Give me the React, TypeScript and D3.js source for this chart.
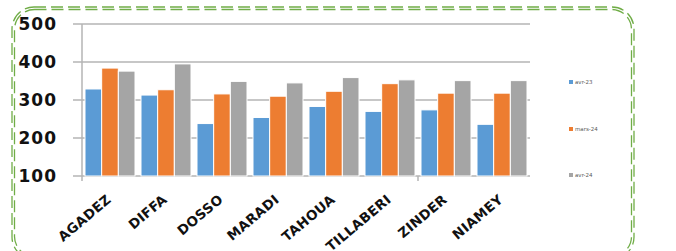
import * as d3 from "d3";

const regions = ["AGADEZ", "DIFFA", "DOSSO", "MARADI", "TAHOUA", "TILLABERI", "ZINDER", "NIAMEY"];
const seriesNames = ["avr-23", "mars-24", "avr-24"];
const avr23 = [329, 313, 238, 254, 283, 270, 274, 236];
const mars24 = [384, 327, 316, 310, 323, 343, 318, 318];
const avr24 = [376, 395, 349, 345, 359, 353, 351, 351];
const colors = ["#5B9BD5", "#ED7D31", "#A5A5A5"];
const yTicks = [100, 200, 300, 400, 500];

function App() {
  const width = 676;
  const height = 251;
  const left = 82;
  const right = 530;
  const top = 24;
  const bottom = 176;

  const series = [avr23, mars24, avr24];

  const x0 = d3.scaleBand<string>().domain(regions).range([left, right]);
  const x1 = d3
    .scaleBand<number>()
    .domain([0, 1, 2])
    .range([3, x0.bandwidth() - 3]);
  const y = d3.scaleLinear().domain([100, 500]).range([bottom, top]);

  const font = "'DejaVu Sans', Verdana, sans-serif";

  return (
    <svg
      width={width}
      height={height}
      style={{ position: "absolute", left: 0, top: 0, background: "#fff" }}
    >
      {/* dashed double frame */}
      <g fill="none" stroke="#70AD47" strokeWidth={1.3} strokeDasharray="12 5">
        <rect x={12} y={7} width={622} height={252} rx={22} />
        <rect x={14.5} y={9.5} width={617} height={247} rx={20} />
      </g>

      {/* grid */}
      <g stroke="#B4B4B4" strokeWidth={1.5}>
        {yTicks.map((t) => (
          <line key={t} x1={left - 9} x2={right} y1={y(t)} y2={y(t)} />
        ))}
        <line x1={left} x2={left} y1={top} y2={bottom + 5} />
        <line x1={x0("ZINDER")!} x2={x0("ZINDER")!} y1={bottom} y2={bottom + 5} />
      </g>

      {/* bars */}
      <g stroke="#fff" strokeWidth={1}>
        {regions.map((r, i) =>
          series.map((s, k) => (
            <rect
              key={r + k}
              x={x0(r)! + x1(k)!}
              width={x1.bandwidth()}
              y={y(s[i])}
              height={y(100) - y(s[i])}
              fill={colors[k]}
            />
          ))
        )}
      </g>

      {/* y labels */}
      <g fontFamily={font} fontWeight="bold" fontSize={17} fill="#111" textAnchor="end">
        {yTicks.map((t) => (
          <text key={t} x={57} y={y(t)} dy="0.36em" letterSpacing={1}>
            {t}
          </text>
        ))}
      </g>

      {/* x labels */}
      <g fontFamily={font} fontWeight="bold" fontSize={13.5} fill="#111" textAnchor="end">
        {regions.map((r) => {
          const cx = x0(r)! + x0.bandwidth() / 2 + 2;
          const cy = bottom + 25;
          return (
            <text key={r} transform={`translate(${cx},${cy}) rotate(-40)`} letterSpacing={0.3}>
              {r}
            </text>
          );
        })}
      </g>

      {/* legend */}
      <g fontFamily={font} fontSize={5.5} fill="#595959">
        {seriesNames.map((n, k) => {
          const ly = [82, 129, 175][k];
          return (
            <g key={n}>
              <rect x={569} y={ly - 2} width={4} height={4} fill={colors[k]} />
              <text x={575} y={ly} dy="0.35em">
                {n}
              </text>
            </g>
          );
        })}
      </g>
    </svg>
  );
}

export default App;
